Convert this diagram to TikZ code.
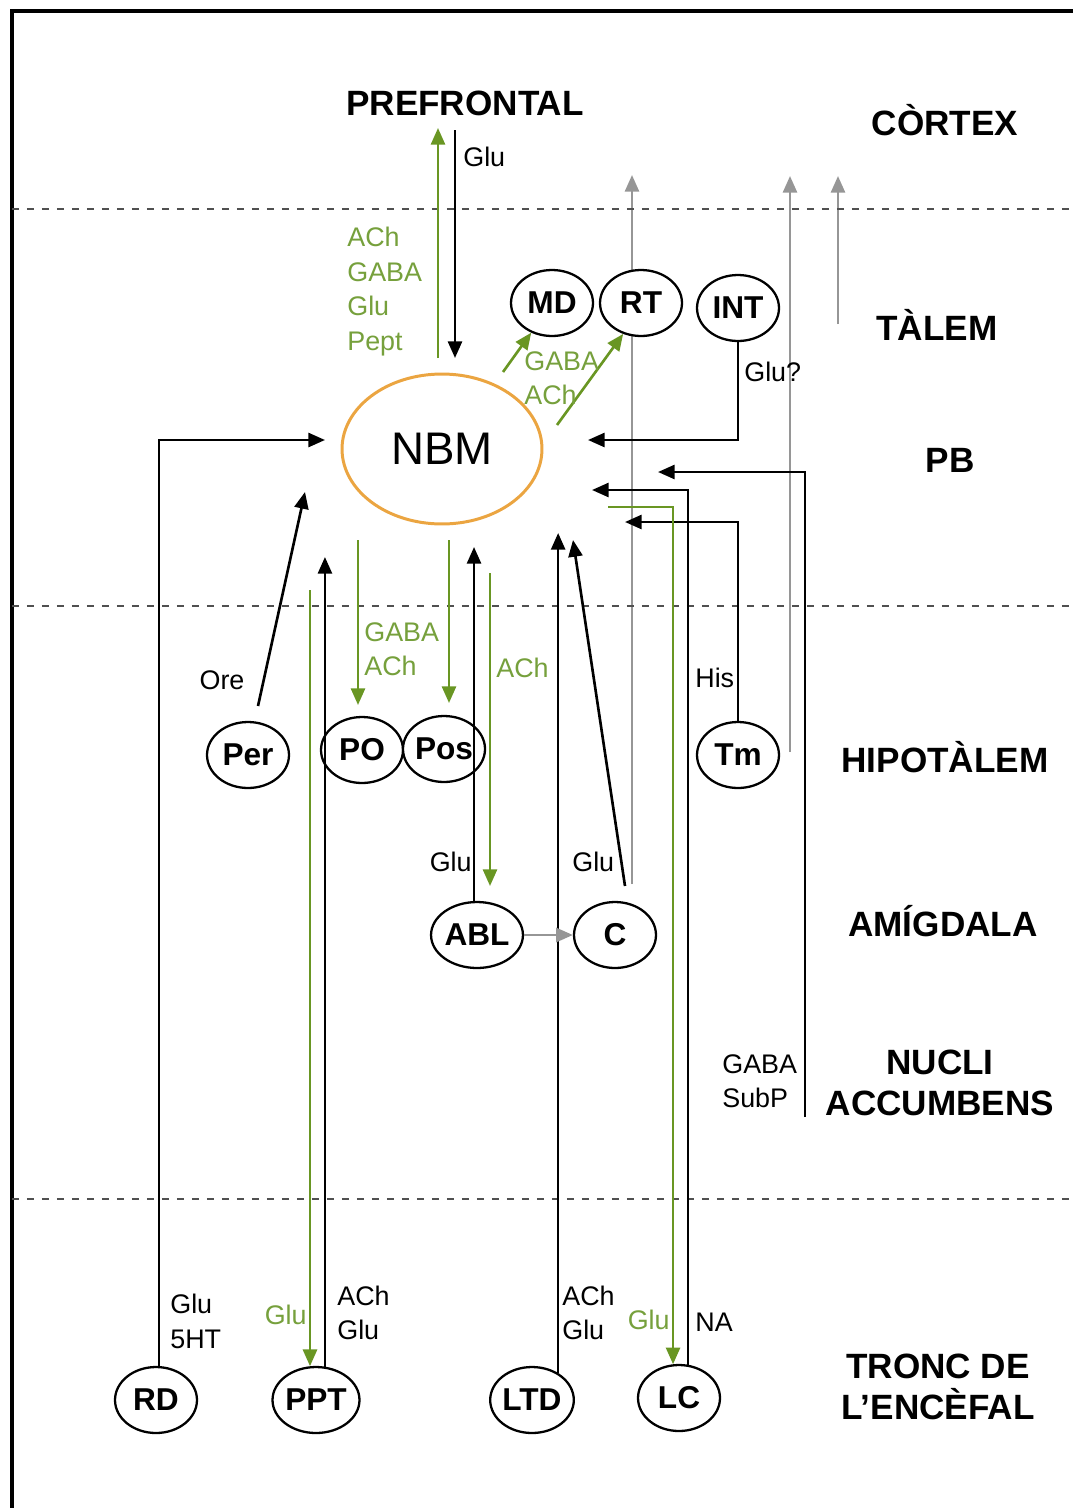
\documentclass[tikz,border=0pt]{standalone}
\usepackage{fontspec}
\setmainfont{Liberation Sans}
\usetikzlibrary{arrows.meta,shapes.geometric}
\definecolor{gr}{RGB}{105,150,35}
\definecolor{grt}{RGB}{118,160,60}
\definecolor{orng}{RGB}{235,165,65}
\definecolor{gry}{RGB}{150,150,150}
\definecolor{dsh}{RGB}{80,80,80}
\pgfdeclarelayer{bg}\pgfsetlayers{bg,main}
\tikzset{
 nuc/.style={ellipse, draw, line width=1.3pt, fill=white, minimum width=1.64cm, minimum height=1.32cm, inner sep=0pt, font=\fontsize{18}{20}\selectfont\bfseries},
 region/.style={font=\fontsize{20}{23.5}\selectfont\bfseries, align=center, inner sep=0pt},
 lbl/.style={font=\fontsize{15.3}{19.6}\selectfont, inner sep=0pt, align=left},
 glbl/.style={lbl, text=grt},
 blk/.style={line width=1.5pt, -{Triangle[length=9.5pt,width=8pt]}},
 grn/.style={blk, draw=gr},
 gryarr/.style={blk, draw=gry},
 sep/.style={dash pattern=on 0.15cm off 0.15cm, line width=1.4pt, draw=dsh},
}
\begin{document}
\begin{tikzpicture}[x=0.02cm,y=-0.02cm]
\useasboundingbox (0,0) rectangle (1073,1508);
% frame
\draw[line width=2pt] (12,1508) -- (12,11) -- (1073,11);
% separators
\draw[sep] (12,209) -- (1073,209);
\draw[sep] (12,606) -- (1073,606);
\draw[sep] (12,1199) -- (1073,1199);

% region labels
\node[region] (pf) at (465,103) {PREFRONTAL};
\node[region] (rcx) at (945,120) {CÒRTEX};
\node[region] (rtal) at (937,325) {TÀLEM};
\node[region] (rpb) at (950,460) {PB};
\node[region] (rhip) at (945,757) {HIPOTÀLEM};
\node[region] (ramig) at (943,921) {AMÍGDALA};
\node[region] (racc) at (940,1083) {NUCLI\\ACCUMBENS};
\node[region] (rtr) at (938,1387) {TRONC DE\\L’ENCÈFAL};

% nuclei
\node[ellipse, draw=orng, line width=1.7pt, minimum width=4cm, minimum height=3cm, inner sep=0pt, font=\fontsize{26}{28}\selectfont] (nbm) at (442,449) {NBM};
\node[nuc] (md) at (552,303) {MD};
\node[nuc] (rt) at (641,303) {RT};
\node[nuc] (int) at (738,308) {INT};
\node[nuc] (per) at (248,755) {Per};
\node[nuc] (po) at (362,750) {PO};
\node[nuc] (pos) at (444,749) {Pos};
\node[nuc] (tm) at (738,755) {Tm};
\node[nuc] (abl) at (477,935) {ABL};
\node[nuc] (c) at (615,935) {C};
\node[nuc] (rd) at (156,1400) {RD};
\node[nuc] (ppt) at (316,1400) {PPT};
\node[nuc] (ltd) at (532,1400) {LTD};
\node[nuc] (lc) at (679,1398) {LC};

% free ends
\coordinate (pfUpS) at (438,358); \coordinate (pfUpE) at (438,128);
\coordinate (pfDnS) at (455,130); \coordinate (pfDnE) at (455,358);
\coordinate (mdS) at (503,372); \coordinate (rtS) at (557,425);
\coordinate (intE) at (588,440);
\coordinate (rdE) at (325,440);
\coordinate (perS) at (258,706); \coordinate (perE) at (305,492);
\coordinate (pptE) at (325,557); \coordinate (pptG) at (310,590);
\coordinate (poS) at (358,540); \coordinate (poE) at (358,705);
\coordinate (posS) at (449,540); \coordinate (posE) at (449,703);
\coordinate (ablE) at (474,547);
\coordinate (ablGS) at (490,573); \coordinate (ablGE) at (490,886);
\coordinate (ltdE) at (557,533);
\coordinate (cS) at (625,886); \coordinate (cE) at (573,540);
\coordinate (cGS) at (632,884); \coordinate (cGE) at (632,175);
\coordinate (tmGS) at (790,752); \coordinate (tmGE) at (790,176);
\coordinate (taGS) at (838,324); \coordinate (taGE) at (838,176);
\coordinate (tmE) at (625,522);
\coordinate (lcE) at (592,490);
\coordinate (lcGS) at (608,507);
\coordinate (accS) at (805,1117); \coordinate (accE) at (658,472);

\begin{pgfonlayer}{bg}
\draw[gryarr] (cGS) -- (cGE);
\draw[gryarr] (tmGS) -- (tmGE);
\draw[gryarr] (taGS) -- (taGE);
\end{pgfonlayer}

% connectors
\draw[grn] (pfUpS) -- (pfUpE);
\draw[blk] (pfDnS) -- (pfDnE);
\draw[grn] (mdS) -- (md.235);
\draw[grn] (rtS) -- (rt.240);
\draw[blk] (int.south) |- (intE);
\draw[blk] (rd.85) |- (rdE);
\draw[blk] (perS) -- (perE);
\draw[blk] (ppt.75) -- (ppt.75 |- pptE);
\draw[grn] (pptG) -- (pptG |- ppt.100);
\draw[grn] (poS) -- (poE);
\draw[grn] (posS) -- (posE);
\draw[blk] (abl.95) -- (abl.95 |- ablE);
\draw[grn] (ablGS) -- (ablGE);
\draw[blk] (ltd.46) -- (ltd.46 |- ltdE);
\draw[blk] (cS) -- (cE);
\draw[gryarr] (abl.east) -- (c.west);
\draw[blk] (tm.north) |- (tmE);
\draw[blk] (lc.75) |- (lcE);
\draw[grn] (lcGS) -| (lc.100);
\draw[blk] (accS) |- (accE);

% transmitter labels
\node[lbl, anchor=west] (l1) at (463,157) {Glu};
\node[glbl, anchor=west] (l2) at (347,291.5) {ACh\\GABA\\Glu\\Pept};
\node[glbl, anchor=west] (l3) at (524,378.5) {GABA\\ACh};
\node[lbl, anchor=west] (l4) at (744,372) {Glu?};
\node[lbl] (l5) at (222,680) {Ore};
\node[glbl, anchor=west] (l6) at (364,649) {GABA\\ACh};
\node[glbl, anchor=west] (l7) at (496,668) {ACh};
\node[lbl, anchor=west] (l8) at (695,678) {His};
\node[lbl, anchor=east] (l9) at (472,862) {Glu};
\node[lbl, anchor=west] (l10) at (572,862) {Glu};
\node[lbl, anchor=west] (l11) at (722,1081.5) {GABA\\SubP};
\node[lbl, anchor=west] (l12) at (170,1321.5) {Glu\\5HT};
\node[glbl, anchor=east] (l13) at (307,1315) {Glu};
\node[lbl, anchor=west] (l14) at (337,1313) {ACh\\Glu};
\node[lbl, anchor=west] (l15) at (562,1313) {ACh\\Glu};
\node[glbl, anchor=east] (l16) at (670,1320) {Glu};
\node[lbl, anchor=west] (l17) at (695,1322) {NA};
\end{tikzpicture}
\end{document}
